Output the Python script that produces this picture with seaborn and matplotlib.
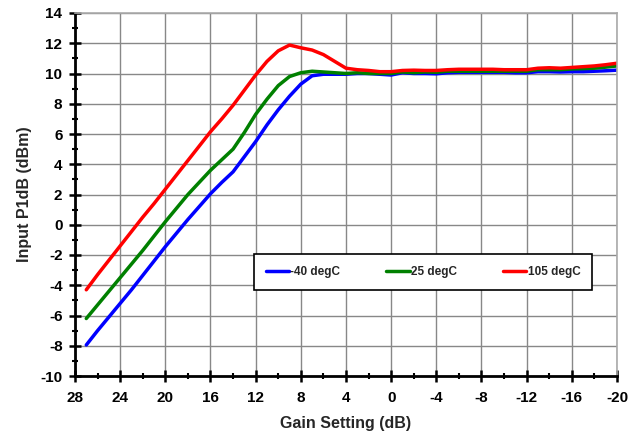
import numpy as np
import pandas as pd
import matplotlib
matplotlib.use("Agg")
import matplotlib.pyplot as plt
import seaborn as sns

gain = list(range(27, -21, -1))
p1db_m40 = [-7.95, -7.0, -6.1, -5.2, -4.3, -3.35, -2.4, -1.45, -0.55, 0.35, 1.2, 2.05, 2.8, 3.5,
            4.5, 5.5, 6.6, 7.6, 8.5, 9.3, 9.85, 9.95, 9.95, 9.95, 10.0, 10.0, 9.95, 9.9,
            10.05, 10.0, 10.0, 9.98, 10.05, 10.08, 10.08, 10.08, 10.08, 10.08, 10.05, 10.05,
            10.12, 10.12, 10.1, 10.12, 10.12, 10.15, 10.18, 10.22]
p1db_25 = [-6.2, -5.3, -4.4, -3.5, -2.6, -1.7, -0.75, 0.2, 1.1, 2.0, 2.8, 3.6, 4.3, 5.0,
           6.1, 7.3, 8.3, 9.2, 9.8, 10.05, 10.15, 10.1, 10.05, 10.0, 10.05, 10.0, 10.0, 10.0,
           10.1, 10.05, 10.1, 10.08, 10.15, 10.15, 10.15, 10.15, 10.15, 10.15, 10.15, 10.15,
           10.25, 10.25, 10.25, 10.3, 10.32, 10.35, 10.42, 10.5]
p1db_105 = [-4.3, -3.3, -2.35, -1.4, -0.45, 0.5, 1.4, 2.35, 3.3, 4.25, 5.2, 6.15, 7.0, 7.9,
            8.9, 9.9, 10.8, 11.5, 11.88, 11.7, 11.55, 11.25, 10.8, 10.35, 10.25, 10.2, 10.12, 10.12,
            10.2, 10.22, 10.2, 10.2, 10.25, 10.28, 10.28, 10.28, 10.28, 10.25, 10.25, 10.25,
            10.35, 10.38, 10.35, 10.4, 10.45, 10.5, 10.58, 10.68]
temps = ["-40 degC", "25 degC", "105 degC"]
colors = ["#0000FF", "#008000", "#FF0000"]

df = pd.concat([
    pd.DataFrame({"gain": gain, "p1db": vals, "temp": t})
    for t, vals in zip(temps, [p1db_m40, p1db_25, p1db_105])
])

sns.set_style("white")
plt.rcParams["font.family"] = ["Liberation Sans", "DejaVu Sans"]
plt.rcParams["font.weight"] = "bold"
plt.rcParams["axes.unicode_minus"] = False

fig = plt.figure(figsize=(6.43, 4.32), dpi=100)
ax = fig.add_axes([75/643, 56/432, 542/643, 363/432])

sns.lineplot(data=df, x="gain", y="p1db", hue="temp", hue_order=temps,
             palette=colors, linewidth=2.5, ax=ax, legend=True)

ax.set_xlim(28, -20)
ax.set_ylim(-10, 14)
ax.set_xticks(np.arange(28, -21, -4))
ax.set_xticks(np.arange(28, -21, -2), minor=True)
ax.set_yticks(np.arange(-10, 15, 2))
ax.set_yticks(np.arange(-10, 15, 1), minor=True)
ax.grid(True, which="major", color="#888888", linewidth=1)
ax.set_axisbelow(True)

for s in ["top", "right"]:
    ax.spines[s].set_color("#aaaaaa")
    ax.spines[s].set_linewidth(1.2)
for s in ["left", "bottom"]:
    ax.spines[s].set_color("black")
    ax.spines[s].set_linewidth(2)

ax.tick_params(which="major", direction="inout", length=8, width=1.8, colors="black",
               labelsize=11)
ax.tick_params(axis="x", which="major", pad=7)
ax.tick_params(axis="y", which="major", pad=5)
ax.tick_params(which="minor", direction="inout", length=5, width=1.5, colors="black")
ax.tick_params(top=False, right=False, which="both")
ax.tick_params(axis="x", which="both", bottom=True)
ax.tick_params(axis="y", which="both", left=True)
for lbl in ax.get_xticklabels() + ax.get_yticklabels():
    lbl.set_fontweight("bold")

ax.set_xlabel("Gain Setting (dB)", fontsize=11.5, fontweight="bold", labelpad=8)
ax.set_ylabel("Input P1dB (dBm)", fontsize=11.5, fontweight="bold", labelpad=6)

handles, labels = ax.get_legend_handles_labels()
leg = ax.legend(handles, labels, loc="lower left",
                bbox_to_anchor=(173/542, 80/363, 350/542, 36/363), mode="expand",
                ncol=3, handlelength=2.0, handletextpad=0.1,
                frameon=True, fancybox=False, borderpad=1.0, prop={"weight": "bold", "size": 8.5})
leg.get_frame().set_edgecolor("black")
leg.get_frame().set_linewidth(1.2)
leg.get_frame().set_alpha(1)

fig.savefig("out.png", dpi=100)
